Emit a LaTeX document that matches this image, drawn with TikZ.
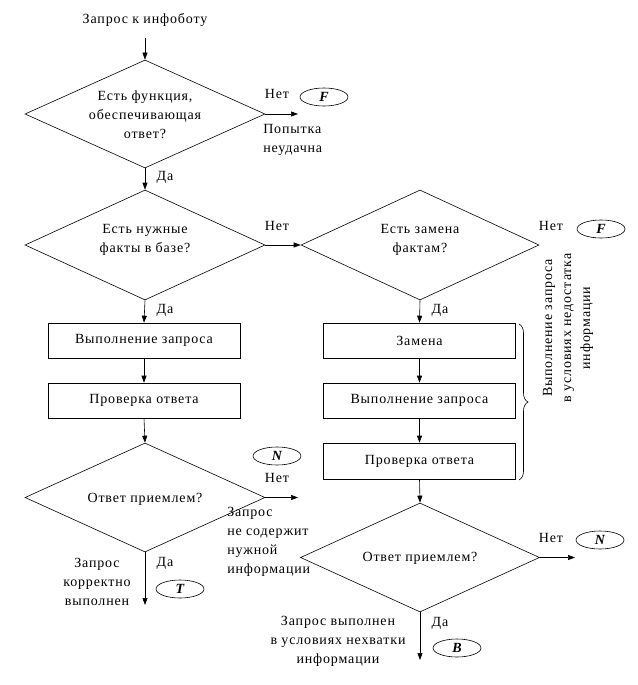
\documentclass[tikz,border=0pt]{standalone}
\usepackage{fontspec}
\setmainfont{Liberation Serif}[LetterSpace=6]
\usetikzlibrary{shapes.geometric,arrows.meta,decorations.pathreplacing}
\begin{document}
\begin{tikzpicture}[x=1pt,y=-1pt,
  font=\fontsize{14}{19}\selectfont,
  dia/.style={draw,shape=diamond,inner sep=0pt},
  txt/.style={inner sep=0pt,align=center},
  box/.style={draw,minimum width=192pt,minimum height=35pt,inner sep=0pt},
  term/.style={draw,ellipse,minimum width=48pt,minimum height=18pt,inner sep=0pt,font=\fontsize{14}{14}\selectfont\bfseries\itshape},
  arr/.style={-{Triangle[length=7pt,width=5pt]}},
  line width=0.6pt]
\useasboundingbox (0,0) rectangle (637,685);

% left column
\node[txt] (start) at (145,20) {Запрос к инфоботу};
\coordinate (s0) at (145,38);
\node[dia,minimum width=240pt,minimum height=108pt] (d1) at (145,114) {};
\node[txt] (d1t) at (145,115) {Есть функция,\\обеспечивающая\\ответ?};
\coordinate (e1) at (298,114);
\node[txt] (n1) at (277,94) {Нет};
\node[term] (f1) at (324,97) {F};
\node[txt,anchor=west,align=left] (fail) at (263,140) {Попытка\\неудачна};
\node[txt] (y1) at (165,177) {Да};

\node[dia,minimum width=240pt,minimum height=110pt] (d2) at (145,245) {};
\node[txt] (d2t) at (145,240) {Есть нужные\\факты в базе?};
\node[txt] (n2) at (277,226) {Нет};
\node[txt] (y2) at (165,310) {Да};

\node[box] (b1) at (144,340.5) {Выполнение запроса};
\node[box] (b2) at (144,400.5) {Проверка ответа};

\node[dia,minimum width=240pt,minimum height=109pt] (d4) at (145,497.5) {};
\node[txt] (d4t) at (145,499) {Ответ приемлем?};
\coordinate (e4) at (298,497.5);
\node[txt] (n4) at (277,478) {Нет};
\node[term] (n4e) at (277,456) {N};
\node[txt,anchor=west,align=left] (nocont) at (227,542) {Запрос\\не содержит\\нужной\\информации};
\coordinate (s4) at (145,605);
\node[txt] (y4) at (165,563) {Да};
\node[term] (t4) at (180,589) {T};
\node[txt] (ok4) at (97,582) {Запрос\\корректно\\выполнен};

% right column
\node[dia,minimum width=238pt,minimum height=110pt] (d3) at (420,245) {};
\node[txt] (d3t) at (420,240) {Есть замена\\фактам?};
\node[txt] (n3) at (551,226) {Нет};
\node[term] (f3) at (601,229) {F};
\node[txt] (y3) at (440,310) {Да};

\node[box] (r1) at (419.5,340.5) {Замена};
\node[box] (r2) at (419.5,400.5) {Выполнение запроса};
\node[box,minimum height=36pt] (r3) at (419.5,461) {Проверка ответа};

\node[dia,minimum width=239pt,minimum height=109pt] (d5) at (420,557.5) {};
\node[txt] (d5t) at (420,558) {Ответ приемлем?};
\coordinate (e5) at (575,557.5);
\node[txt] (n5) at (551,538) {Нет};
\node[term] (n5e) at (600,540) {N};
\coordinate (s5) at (420,660);
\node[txt] (y5) at (440,623) {Да};
\node[term] (b5) at (457,648) {B};
\node[txt] (ok5) at (338,641) {Запрос выполнен\\в условиях нехватки\\информации};

% brace
\coordinate (bt) at (519,324);
\coordinate (bb) at (519,480);
\draw[decorate,decoration={brace,amplitude=9pt}] (bt) -- (bb);
\node[txt,rotate=90] (bl) at (568,328) {Выполнение запроса\\в условиях недостатка\\информации};

% connectors
\draw[arr] (s0) -- (d1.north);
\draw[arr] (d1.east) -- (e1);
\draw[arr] (d1.south) -- (d2.north);
\draw[arr] (d2.east) -- (d3.west);
\draw[arr] (d2.south) -- (b1.north);
\draw[arr] (b1.south) -- (b2.north);
\draw[arr] (b2.south) -- (d4.north);
\draw[arr] (d4.east) -- (e4);
\draw[arr] (d4.south) -- (s4);
\draw[arr] (d3.south) -- (r1.north);
\draw[arr] (r1.south) -- (r2.north);
\draw[arr] (r2.south) -- (r3.north);
\draw[arr] (r3.south) -- (d5.north);
\draw[arr] (d5.east) -- (e5);
\draw[arr] (d5.south) -- (s5);
\end{tikzpicture}
\end{document}
